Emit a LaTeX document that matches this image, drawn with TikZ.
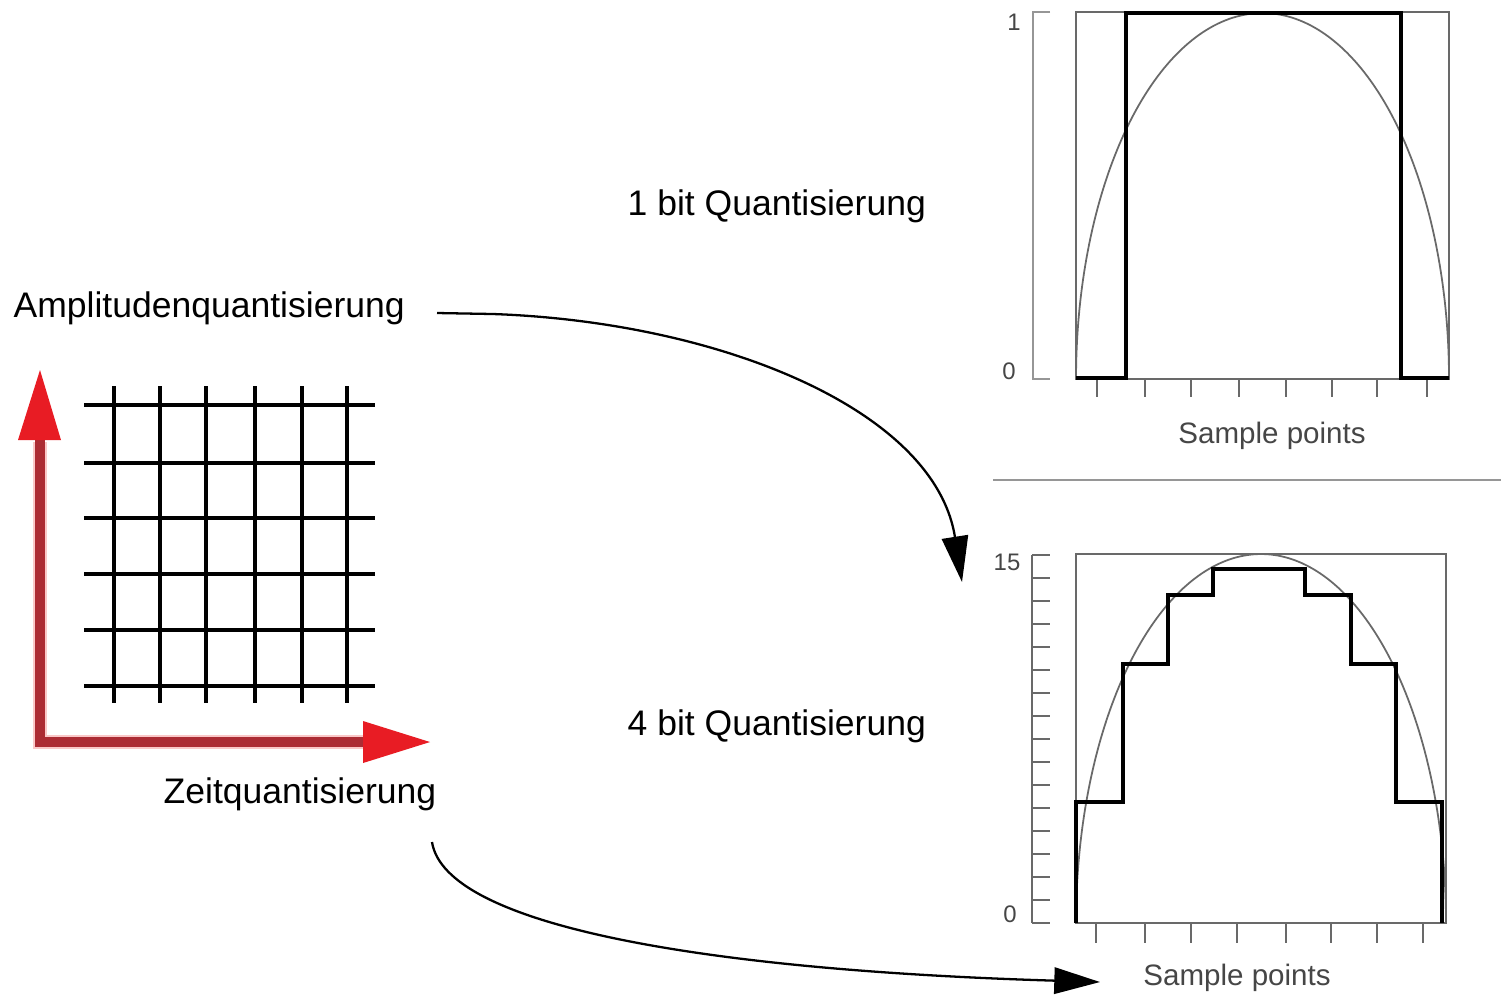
\documentclass[tikz,border=0pt]{standalone}
\usepackage{fontspec}
\setmainfont{Liberation Sans}
\usetikzlibrary{arrows.meta}
\definecolor{shaftred}{RGB}{172,44,52}
\definecolor{headred}{RGB}{232,28,36}
\definecolor{halopink}{RGB}{250,200,200}
\definecolor{plotgray}{RGB}{105,105,105}
\definecolor{lightaxis}{RGB}{150,150,150}
\definecolor{labelgray}{RGB}{70,70,70}
\tikzset{
  lbl/.style={inner sep=0pt, font=\fontsize{10.1}{12}\selectfont, anchor=base west},
  smalllbl/.style={inner sep=0pt, font=\fontsize{8.4}{10}\selectfont, text=labelgray, anchor=base},
  axlbl/.style={inner sep=0pt, font=\fontsize{6.8}{8}\selectfont, text=labelgray},
  gridline/.style={line width=0.95pt, black},
  frame/.style={plotgray, line width=0.55pt},
  curve/.style={plotgray, line width=0.5pt},
  quant/.style={black, line width=1.4pt, line join=miter},
  conn/.style={black, line width=0.65pt, -{Triangle[length=13pt,width=7.5pt]}},
}
\begin{document}
\begin{tikzpicture}[x=0.01cm,y=-0.01cm]
\useasboundingbox (0,0) rectangle (1501,996);
\fill[white] (0,0) rectangle (1501,996);

% ---------- left: grid and red axes ----------
\foreach \yy in {405,463,518,574,630,686}
  \draw[gridline] (84,\yy) -- (375,\yy);
\foreach \xx in {114,160,206,255,302,347}
  \draw[gridline] (\xx,386) -- (\xx,703);

\draw[line width=4.2pt, halopink, line join=miter] (40,442) -- (40,742) -- (365,742);
\draw[line width=2.85pt, shaftred, line join=miter] (40,440) -- (40,742) -- (363,742);
\fill[headred] (18,440) -- (40,370) -- (61,440) -- cycle;
\fill[headred] (363,721) -- (430,742) -- (363,763) -- cycle;

\node[lbl] (amp) at (13,317) {Amplitudenquantisierung};
\node[lbl] (zeit) at (163,803) {Zeitquantisierung};
\node[lbl] (q1) at (627,215) {1 bit Quantisierung};
\node[lbl] (q4) at (627,735) {4 bit Quantisierung};

% ---------- top plot (1 bit) ----------
\draw[frame] (1076,12) rectangle (1449,379);
\draw[lightaxis, line width=0.55pt] (1050,12) -- (1033,12) -- (1033,379) -- (1050,379);
\foreach \xx in {1097,1145,1191,1239,1286,1332,1377,1427}
  \draw[frame] (\xx,379) -- (\xx,397);
\draw[curve] plot[domain=180:0, samples=150] ({1262.5+186.5*cos(\x)},{379-366*sin(\x)});
\draw[quant] (1076,378) -- (1126,378) -- (1126,13) -- (1401,13) -- (1401,378) -- (1449,378);
\node[axlbl] (one) at (1014,22) {1};
\node[axlbl] (zeroA) at (1009,371) {0};
\node[smalllbl] (sp1) at (1272,443) {Sample points};

% separator
\draw[lightaxis, line width=0.55pt] (993,480) -- (1501,480);

% ---------- bottom plot (4 bit) ----------
\draw[frame] (1076,554) rectangle (1446,923);
\draw[frame] (1032,555) -- (1032,923);
\foreach \i in {0,...,16}
  \draw[frame] (1032,{555+23*\i}) -- (1050,{555+23*\i});
\foreach \xx in {1096,1145,1191,1237,1286,1331,1377,1423}
  \draw[frame] (\xx,923) -- (\xx,943);
\draw[curve] plot[domain=180:0, samples=150] ({1261+185*cos(\x)},{923-369*sin(\x)});
\draw[quant] (1076,923) -- (1076,802) -- (1123,802) -- (1123,664) -- (1168,664) -- (1168,595)
  -- (1213,595) -- (1213,569) -- (1305,569) -- (1305,595) -- (1351,595) -- (1351,664)
  -- (1396,664) -- (1396,802) -- (1442,802) -- (1442,923);
\node[axlbl] (fifteen) at (1007,562) {15};
\node[axlbl] (zeroB) at (1010,914) {0};
\node[smalllbl] (sp2) at (1237,985) {Sample points};

% ---------- connectors ----------
\coordinate (a1s) at (437,313);
\coordinate (a1e) at (962,582);
\draw[conn] (a1s) -- (493,314) .. controls (720,322) and (935,410) .. (a1e);
\coordinate (a2s) at (432,842);
\coordinate (a2e) at (1100,982);
\draw[conn] (a2s) .. controls (445,925) and (700,970) .. (a2e);
\end{tikzpicture}
\end{document}
